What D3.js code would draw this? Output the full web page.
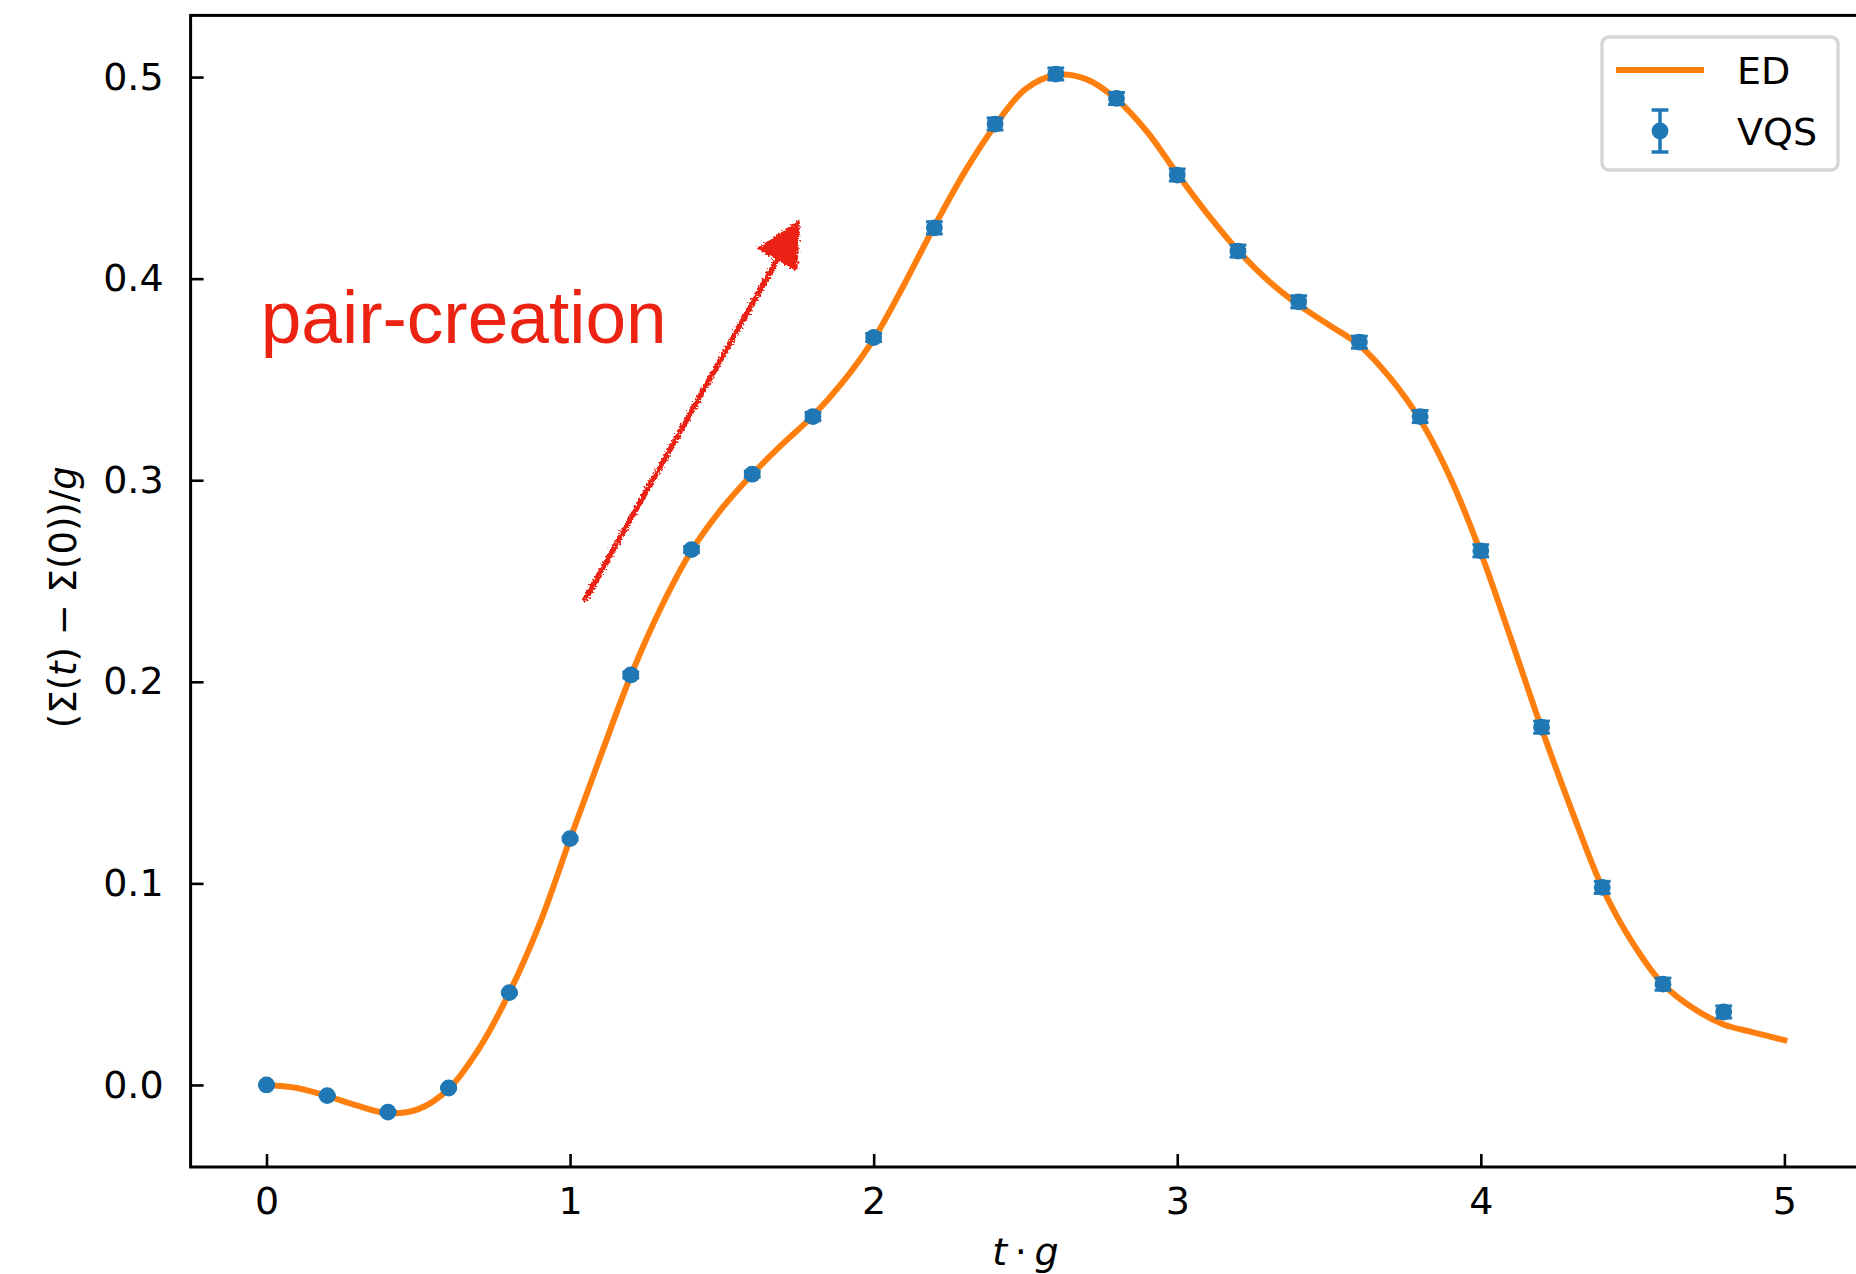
<!DOCTYPE html>
<html>
<head>
<meta charset="utf-8">
<script src="https://cdn.jsdelivr.net/npm/d3@7"></script>
<style>
  html, body { margin: 0; padding: 0; background: #ffffff; }
  svg { display: block; }
</style>
</head>
<body>
<svg id="chart" width="1856" height="1274"></svg>
<script>
// ---------------- data ----------------
const edT = [0.0,0.1,0.2,0.3,0.4,0.5,0.6,0.7,0.8,0.9,1.0,1.1,1.2,1.3,1.4,1.5,1.6,1.7,1.8,1.9,2.0,
             2.1,2.2,2.3,2.4,2.5,2.6,2.7,2.8,2.9,3.0,3.1,3.2,3.3,3.4,3.5,3.6,3.7,3.8,3.9,4.0,
             4.1,4.2,4.3,4.4,4.5,4.6,4.7,4.8,4.9,5.0];
const edValues = [0.000,-0.0015,-0.0055,-0.0103,-0.0140,-0.0120,-0.0020,0.0180,0.0458,0.0800,0.1220,
                  0.1630,0.2030,0.2370,0.2650,0.2860,0.3030,0.3180,0.3320,0.3490,0.3700,
                  0.3970,0.4260,0.4530,0.4760,0.4940,0.5010,0.4990,0.4890,0.4730,0.4520,
                  0.4320,0.4140,0.3990,0.3870,0.3770,0.3670,0.3510,0.3300,0.3010,0.2640,
                  0.2210,0.1770,0.1360,0.0980,0.0705,0.0500,0.0380,0.0300,0.0260,0.0222];

const vqsT = [0.0,0.2,0.4,0.6,0.8,1.0,1.2,1.4,1.6,1.8,2.0,2.2,2.4,2.6,2.8,3.0,3.2,3.4,3.6,3.8,4.0,4.2,4.4,4.6,4.8];
const vqsValues = [0.000,-0.0053,-0.0135,-0.0015,0.0458,0.1222,0.2034,0.2656,0.3030,0.3316,0.3708,
                   0.4252,0.4767,0.5015,0.4894,0.4514,0.4137,0.3885,0.3685,0.3316,0.2650,0.1775,0.0980,0.0500,0.0362];
const vqsErrors = [0.0,0.0005,0.0005,0.0005,0.0005,0.0008,0.0015,0.0015,0.0015,0.002,0.002,
                   0.003,0.003,0.003,0.003,0.003,0.003,0.003,0.003,0.003,0.003,0.003,0.003,0.003,0.003];

const xTicks = [0,1,2,3,4,5];
const yTicks = [0.0,0.1,0.2,0.3,0.4,0.5];
const xDomain = [-0.25, 5.25];
const yDomain = [-0.0407, 0.5306];

const annotationText = "pair-creation";
const annotationPos = [-0.019, 0.368];
const arrowStart = [1.05, 0.241];
const arrowTip = [1.752, 0.428];

const legendLabels = ["ED", "VQS"];

// ---------------- layout ----------------
const svg = d3.select("#chart");
const plot = { left: 190.6, top: 15.4, right: 1860.3, bottom: 1167 };
const ORANGE = "#ff7f0e", BLUE = "#1f77b4", RED = "#ec2312";
const FONT = "'DejaVu Sans', sans-serif";
const FS = 38;

const x = d3.scaleLinear().domain(xDomain).range([plot.left, plot.right]);
const y = d3.scaleLinear().domain(yDomain).range([plot.bottom, plot.top]);

// filter for hand-drawn look
const defs = svg.append("defs");
const f = defs.append("filter").attr("id", "rough").attr("x", "-20%").attr("y", "-20%").attr("width", "140%").attr("height", "140%");
f.append("feTurbulence").attr("type", "fractalNoise").attr("baseFrequency", 0.5).attr("numOctaves", 2).attr("seed", 3).attr("result", "noise");
f.append("feDisplacementMap").attr("in", "SourceGraphic").attr("in2", "noise").attr("scale", 7).attr("xChannelSelector", "R").attr("yChannelSelector", "G");

// ---------------- axes ----------------
const xAxis = d3.axisBottom(x).tickValues(xTicks).tickSizeInner(-13).tickSizeOuter(0)
  .tickPadding(20).tickFormat(d3.format("d"));
const yAxis = d3.axisLeft(y).tickValues(yTicks).tickSizeInner(-13).tickSizeOuter(0)
  .tickPadding(27).tickFormat(d3.format(".1f"));

const gx = svg.append("g").attr("transform", `translate(0,${plot.bottom})`).call(xAxis);
const gy = svg.append("g").attr("transform", `translate(${plot.left},0)`).call(yAxis);
[gx, gy].forEach(g => {
  g.select(".domain").remove();
  g.selectAll(".tick line").attr("stroke", "#000").attr("stroke-width", 2.6);
  g.selectAll(".tick text").attr("fill", "#000").style("font-family", FONT).style("font-size", FS + "px");
});

// spines
const spines = svg.append("g").attr("stroke", "#000").attr("stroke-width", 3).attr("fill", "none");
spines.append("rect").attr("x", plot.left).attr("y", plot.top)
  .attr("width", plot.right - plot.left).attr("height", plot.bottom - plot.top);

// axis labels
const xl = svg.append("text").attr("x", (plot.left + plot.right) / 2).attr("y", 1265)
  .attr("text-anchor", "middle").style("font-family", FONT).style("font-size", FS + "px").attr("fill", "#000");
xl.append("tspan").style("font-style", "italic").text("t");
xl.append("tspan").text("\u2009\u00B7\u2009");
xl.append("tspan").style("font-style", "italic").text("g");

const yl = svg.append("text").attr("transform", `translate(76,${(plot.top + plot.bottom) / 2 + 6}) rotate(-90)`)
  .attr("text-anchor", "middle").style("font-family", FONT).style("font-size", "37px").attr("fill", "#000");
yl.append("tspan").text("(\u03A3(");
yl.append("tspan").style("font-style", "italic").text("t");
yl.append("tspan").text(") \u2212 \u03A3(0))/");
yl.append("tspan").style("font-style", "italic").text("g");

// ---------------- data marks ----------------
const clip = defs.append("clipPath").attr("id", "clip");
clip.append("rect").attr("x", plot.left).attr("y", plot.top).attr("width", plot.right - plot.left).attr("height", plot.bottom - plot.top);
const pg = svg.append("g").attr("clip-path", "url(#clip)");

const line = d3.line().x((d, i) => x(edT[i])).y(d => y(d)).curve(d3.curveCatmullRom.alpha(0.5));
pg.append("path").datum(edValues).attr("d", line).attr("fill", "none")
  .attr("stroke", ORANGE).attr("stroke-width", 6).attr("stroke-linejoin", "round").attr("stroke-linecap", "square");

const capHalf = 8.4;
const eb = pg.append("g").attr("stroke", BLUE).attr("stroke-width", 3);
vqsValues.forEach((v, i) => {
  const cx = x(vqsT[i]), e = vqsErrors[i];
  eb.append("line").attr("x1", cx).attr("x2", cx).attr("y1", y(v - e)).attr("y2", y(v + e));
  [v - e, v + e].forEach(c => eb.append("line").attr("x1", cx - capHalf).attr("x2", cx + capHalf).attr("y1", y(c)).attr("y2", y(c)));
});
pg.append("g").selectAll("circle").data(vqsValues).join("circle")
  .attr("cx", (d, i) => x(vqsT[i])).attr("cy", d => y(d)).attr("r", 8.4).attr("fill", BLUE);

// ---------------- annotation ----------------
svg.append("text").attr("x", x(annotationPos[0])).attr("y", y(annotationPos[1]))
  .style("font-family", "'Liberation Sans', Arial, sans-serif").style("font-size", "74px")
  .attr("textLength", 406).attr("lengthAdjust", "spacingAndGlyphs")
  .attr("fill", RED).text(annotationText);

const ax0 = x(arrowStart[0]), ay0 = y(arrowStart[1]), ax1 = x(arrowTip[0]), ay1 = y(arrowTip[1]);
const ang = Math.atan2(ay1 - ay0, ax1 - ax0);
const headLen = 42, headHalf = 21;
const bx = ax1 - headLen * Math.cos(ang), by = ay1 - headLen * Math.sin(ang);
const px = -Math.sin(ang), py = Math.cos(ang);
const ag = svg.append("g").attr("filter", "url(#rough)");
ag.append("line").attr("x1", ax0).attr("y1", ay0).attr("x2", bx + 6 * Math.cos(ang)).attr("y2", by + 6 * Math.sin(ang))
  .attr("stroke", RED).attr("stroke-width", 5.5).attr("stroke-linecap", "round");
ag.append("path").attr("d", `M${ax1},${ay1}L${bx + headHalf * px},${by + headHalf * py}L${bx - headHalf * px},${by - headHalf * py}Z`)
  .attr("fill", RED).attr("stroke", RED).attr("stroke-width", 3).attr("stroke-linejoin", "round");

// ---------------- legend ----------------
const lg = svg.append("g");
lg.append("rect").attr("x", 1602).attr("y", 37).attr("width", 236).attr("height", 133).attr("rx", 7)
  .attr("fill", "#fff").attr("fill-opacity", 0.8).attr("stroke", "#d6d6d6").attr("stroke-width", 3.5);
lg.append("line").attr("x1", 1616).attr("x2", 1704).attr("y1", 70).attr("y2", 70)
  .attr("stroke", ORANGE).attr("stroke-width", 6);
const lx = 1660, lyc = 131;
lg.append("line").attr("x1", lx).attr("x2", lx).attr("y1", lyc - 21).attr("y2", lyc + 21).attr("stroke", BLUE).attr("stroke-width", 3.5);
[lyc - 21, lyc + 21].forEach(c => lg.append("line").attr("x1", lx - capHalf).attr("x2", lx + capHalf).attr("y1", c).attr("y2", c).attr("stroke", BLUE).attr("stroke-width", 3.5));
lg.append("circle").attr("cx", lx).attr("cy", lyc).attr("r", 8.4).attr("fill", BLUE);
lg.selectAll("text.leg").data(legendLabels).join("text").attr("class", "leg")
  .attr("x", 1737).attr("y", (d, i) => [70, 131][i]).attr("dy", "0.36em")
  .style("font-family", FONT).style("font-size", FS + "px").attr("fill", "#000").text(d => d);
</script>
</body>
</html>
